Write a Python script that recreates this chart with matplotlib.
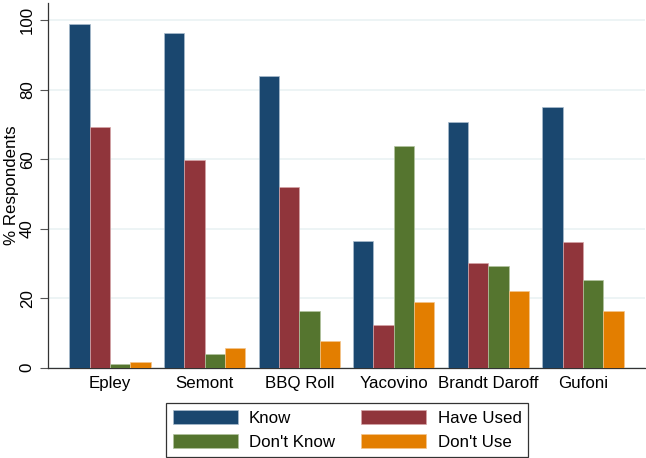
import numpy as np
import matplotlib
matplotlib.use("Agg")
import matplotlib.pyplot as plt

plt.rcParams['font.family'] = ['Liberation Sans', 'DejaVu Sans']

maneuvers = ["Epley", "Semont", "BBQ Roll", "Yacovino", "Brandt Daroff", "Gufoni"]
know = [99.0, 96.2, 83.9, 36.5, 70.7, 74.9]
have_used = [69.3, 59.7, 52.0, 12.2, 30.2, 36.1]
dont_know = [1.0, 3.9, 16.2, 63.9, 29.4, 25.2]
dont_use = [1.6, 5.7, 7.6, 18.9, 22.0, 16.4]

series = [("Know", know, "#1a476f", "#a9bccd"),
          ("Have Used", have_used, "#90353b", "#d5a4a7"),
          ("Don't Know", dont_know, "#55752f", "#b3c4a0"),
          ("Don't Use", dont_use, "#e37e00", "#f3c48c")]

fs = 12.2

fig = plt.figure(figsize=(6.46, 4.58), dpi=100)
ax = fig.add_axes([48 / 646, 90.3 / 458, 597 / 646, 365 / 458])

x = np.arange(len(maneuvers))
w = 0.215
handles = {}
for i, (name, vals, col, edge) in enumerate(series):
    bars = ax.bar(x - 1.5 * w + i * w, vals, width=w, color=col,
                  edgecolor=edge, linewidth=0.5, zorder=3)
    handles[name] = bars

ax.set_xlim(-0.655, 5.655)
ax.set_ylim(0, 105)
ax.set_yticks([0, 20, 40, 60, 80, 100])
ax.yaxis.grid(True, color="#eaf2f3", linewidth=1.2, zorder=0)
ax.set_xticks(x)
ax.set_xticklabels(maneuvers, fontsize=fs)
ax.tick_params(axis="x", length=0, pad=6)
ax.tick_params(axis="y", length=6, width=0.8, color="#555555", labelsize=fs, pad=3.5)
for lab in ax.get_yticklabels():
    lab.set_rotation(90)
    lab.set_va("center")
ax.set_ylabel("% Respondents", fontsize=fs)
ax.yaxis.set_label_coords(-0.048, 0.5)
for s in ["top", "right"]:
    ax.spines[s].set_visible(False)
for s in ["left", "bottom"]:
    ax.spines[s].set_color("#333333")
    ax.spines[s].set_linewidth(0.9)

order = ["Know", "Don't Know", "Have Used", "Don't Use"]
leg = fig.legend([handles[n] for n in order], order, ncol=2, loc="lower center",
                 bbox_to_anchor=(347 / 646, 1.3 / 458), fontsize=fs,
                 handlelength=3.85, handleheight=0.95, handletextpad=0.65,
                 columnspacing=1.55, labelspacing=0.47, borderpad=0.4,
                 borderaxespad=0, fancybox=False, framealpha=1)
leg.get_frame().set_edgecolor("#333333")
leg.get_frame().set_linewidth(0.9)

fig.savefig("out.png", dpi=100)
